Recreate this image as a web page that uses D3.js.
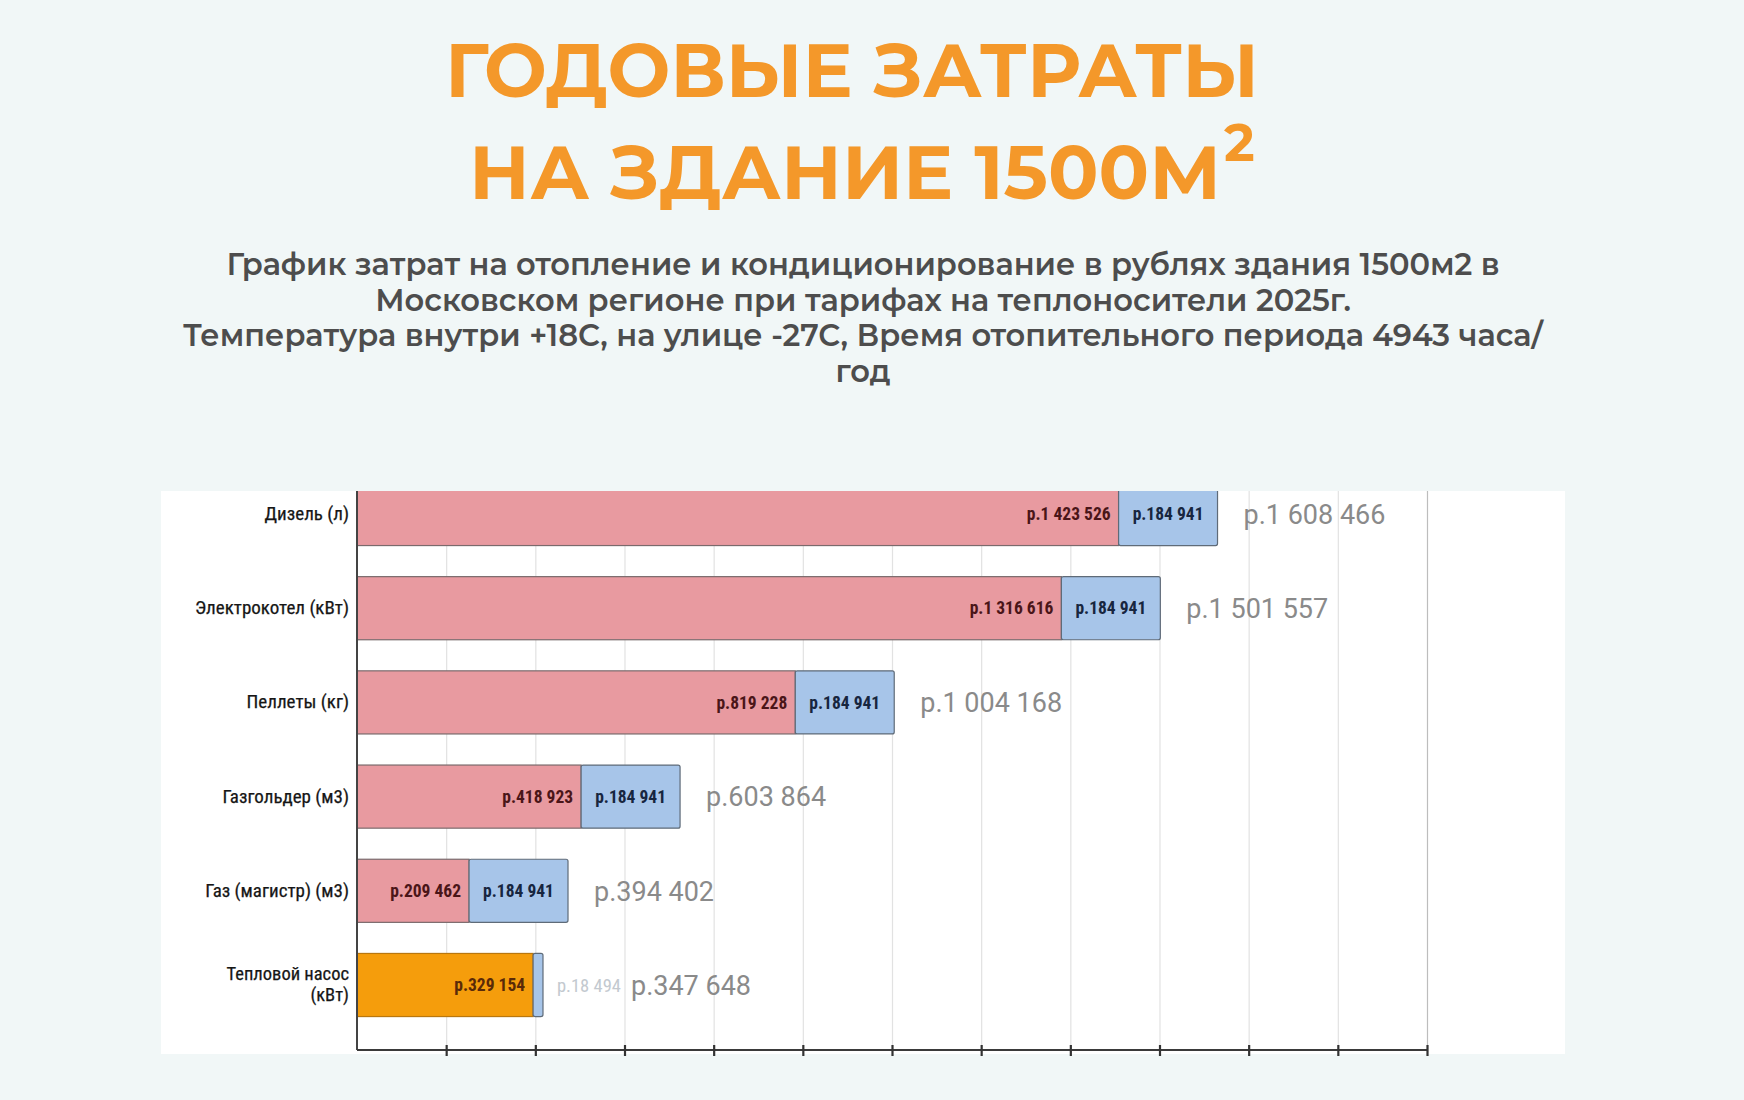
<!DOCTYPE html>
<html lang="ru">
<head>
<meta charset="utf-8">
<script src="https://cdn.jsdelivr.net/npm/d3@7"></script>
<style>
  html, body { margin: 0; padding: 0; background: #f1f7f7; }
  svg { display: block; }
</style>
</head>
<body>
<div id="chart"></div>
<script>
// Годовые затраты на здание 1500 м2: отопление + кондиционирование, руб.

const titleLines = ["ГОДОВЫЕ ЗАТРАТЫ", "НА ЗДАНИЕ 1500М"];
const subtitleLines = [
  "График затрат на отопление и кондиционирование в рублях здания 1500м2 в",
  "Московском регионе при тарифах на теплоносители 2025г.",
  "Температура внутри +18С, на улице -27С, Время отопительного периода 4943 часа/",
  "год"
];

const categories = [
  "Дизель (л)",
  "Электрокотел (кВт)",
  "Пеллеты (кг)",
  "Газгольдер (м3)",
  "Газ (магистр) (м3)",
  "Тепловой насос (кВт)"
];
const heatingCosts = [1423526, 1316616, 819228, 418923, 209462, 329154];
const coolingCosts = [184941, 184941, 184941, 184941, 184941, 18494];
const totalCosts   = [1608466, 1501557, 1004168, 603864, 394402, 347648];

const highlighted = "Тепловой насос (кВт)";

const width = 1744, height = 1100;
const panel = { x: 161, y: 491, w: 1404, h: 563 };
const plot  = { left: 357, right: 1427, top: 449, bottom: 1050 };

const rub = v => "р." + d3.format(",")(v).replace(/,/g, " ");

const svg = d3.select("#chart").append("svg")
  .attr("width", width)
  .attr("height", height);

svg.append("rect")
  .attr("width", width).attr("height", height)
  .attr("fill", "#f1f7f7");

// ── TITLE ─────────────────────────────────────────────
const titleFont = "Montserrat, 'Open Sans', 'DejaVu Sans', sans-serif";

function fitWidth(sel, target) {
  const w = sel.node().getComputedTextLength();
  const size = parseFloat(sel.attr("font-size"));
  sel.attr("font-size", (size * target / w).toFixed(2));
}

const t1 = svg.append("text")
  .attr("x", 852).attr("y", 97)
  .attr("text-anchor", "middle")
  .attr("font-family", titleFont)
  .attr("font-weight", 700)
  .attr("font-size", 82)
  .attr("fill", "#f4982a")
  .text(titleLines[0]);
fitWidth(t1, 814);

const t2 = svg.append("text")
  .attr("x", 469).attr("y", 199)
  .attr("font-family", titleFont)
  .attr("font-weight", 700)
  .attr("font-size", 82)
  .attr("fill", "#f4982a")
  .text(titleLines[1]);
fitWidth(t2, 752);
const t2w = t2.node().getComputedTextLength();

svg.append("text")
  .attr("x", 469 + t2w + 3).attr("y", 161)
  .attr("font-family", titleFont)
  .attr("font-weight", 700)
  .attr("font-size", 52)
  .attr("fill", "#f4982a")
  .text("2");

// ── SUBTITLE ──────────────────────────────────────────
const sub = svg.append("g")
  .attr("font-family", "Montserrat, 'Open Sans', 'DejaVu Sans', sans-serif")
  .attr("font-weight", 600)
  .attr("fill", "#4d4d4d")
  .attr("text-anchor", "middle");

const subTexts = subtitleLines.map((line, i) =>
  sub.append("text")
    .attr("x", 863)
    .attr("y", 275 + i * 35.5)
    .attr("font-size", 27)
    .text(line)
);
// scale all subtitle lines so the longest matches the reference width
const longest = subTexts[2].node().getComputedTextLength();
const subSize = (27 * 1360 / longest).toFixed(2);
subTexts.forEach(s => s.attr("font-size", subSize));

// ── PANEL ─────────────────────────────────────────────
svg.append("rect")
  .attr("x", panel.x).attr("y", panel.y)
  .attr("width", panel.w).attr("height", panel.h)
  .attr("fill", "#ffffff");

svg.append("clipPath").attr("id", "panel-clip")
  .append("rect")
  .attr("x", panel.x).attr("y", panel.y)
  .attr("width", panel.w).attr("height", panel.h);

const chart = svg.append("g").attr("clip-path", "url(#panel-clip)");

const x = d3.scaleLinear()
  .domain([0, 2000000])
  .range([plot.left, plot.right]);

const y = d3.scaleBand()
  .domain(categories)
  .range([plot.top, plot.bottom])
  .paddingInner(0.33)
  .paddingOuter(0.355);

const gridStep = 2000000 / 12;
const gridValues = d3.range(1, 13).map(i => i * gridStep);

// vertical gridlines
chart.append("g")
  .attr("transform", `translate(0, ${plot.bottom})`)
  .call(d3.axisBottom(x)
    .tickValues(gridValues)
    .tickSize(-(plot.bottom - panel.y))
    .tickFormat(""))
  .call(a => a.select(".domain").remove())
  .call(a => a.selectAll(".tick line")
    .attr("stroke", (d, i) => i === gridValues.length - 1 ? "#bdbdbd" : "#e2e2e2")
    .attr("stroke-width", 1.2));

// ── BARS ──────────────────────────────────────────────
const rows = categories.map((c, i) => ({
  category: c,
  heating: heatingCosts[i],
  cooling: coolingCosts[i],
  total: totalCosts[i]
}));

const bars = chart.append("g");

bars.selectAll(".heat")
  .data(rows)
  .join("rect")
  .attr("x", x(0))
  .attr("y", d => y(d.category))
  .attr("width", d => x(d.heating) - x(0))
  .attr("height", y.bandwidth())
  .attr("fill", d => d.category === highlighted ? "#f59d0c" : "#e89aa0")
  .attr("stroke", d => d.category === highlighted ? "#b9770f" : "#7a6a6c")
  .attr("stroke-width", 1.2);

bars.selectAll(".cool")
  .data(rows)
  .join("rect")
  .attr("x", d => x(d.heating))
  .attr("y", d => y(d.category))
  .attr("width", d => x(d.heating + d.cooling) - x(d.heating))
  .attr("height", y.bandwidth())
  .attr("rx", 2)
  .attr("fill", "#a7c5e9")
  .attr("stroke", "#5f6b78")
  .attr("stroke-width", 1.2);

// value labels inside the segments
const innerFont = "'Liberation Sans Narrow', 'Roboto Condensed', 'Roboto', sans-serif";

bars.selectAll(".heat-label")
  .data(rows)
  .join("text")
  .attr("x", d => x(d.heating) - 8)
  .attr("y", d => y(d.category) + y.bandwidth() / 2)
  .attr("dy", "0.36em")
  .attr("text-anchor", "end")
  .attr("font-family", innerFont)
  .attr("font-weight", 700)
  .attr("font-size", 17.5)
  .attr("fill", d => d.category === highlighted ? "#5a2a08" : "#4a1518")
  .text(d => rub(d.heating));

const fitsInside = d => x(d.heating + d.cooling) - x(d.heating) > 60;

bars.selectAll(".cool-label")
  .data(rows)
  .join("text")
  .attr("x", d => fitsInside(d)
    ? x(d.heating + d.cooling / 2)
    : x(d.heating + d.cooling) + 14)
  .attr("y", d => y(d.category) + y.bandwidth() / 2)
  .attr("dy", "0.36em")
  .attr("text-anchor", d => fitsInside(d) ? "middle" : "start")
  .attr("font-family", innerFont)
  .attr("font-weight", d => fitsInside(d) ? 700 : 400)
  .attr("font-size", d => fitsInside(d) ? 17.5 : 18.5)
  .attr("fill", d => fitsInside(d) ? "#17263f" : "#c3c9cf")
  .text(d => rub(d.cooling));

// totals to the right of each bar
bars.selectAll(".total-label")
  .data(rows)
  .join("text")
  .attr("x", d => x(d.total) + (fitsInside(d) ? 26 : 88))
  .attr("y", d => y(d.category) + y.bandwidth() / 2)
  .attr("dy", "0.36em")
  .attr("font-family", "Roboto, 'Liberation Sans', sans-serif")
  .attr("font-weight", 400)
  .attr("font-size", 27)
  .attr("fill", "#8a8a8a")
  .text(d => rub(d.total));

// ── AXES ──────────────────────────────────────────────
const catAxis = svg.append("g")
  .attr("transform", `translate(${plot.left}, 0)`)
  .call(d3.axisLeft(y).tickSize(0).tickPadding(8));

catAxis.select(".domain").remove();
catAxis.append("line")
  .attr("x1", 0).attr("x2", 0)
  .attr("y1", panel.y).attr("y2", plot.bottom)
  .attr("stroke", "#444").attr("stroke-width", 2);

catAxis.selectAll(".tick text")
  .attr("font-family", innerFont)
  .attr("font-weight", 400)
  .attr("font-size", 19)
  .attr("fill", "#161616")
  .attr("stroke", "#161616")
  .attr("stroke-width", 0.25)
  .each(function (d) {
    if (d !== highlighted) return;
    const node = d3.select(this);
    const parts = ["Тепловой насос", "(кВт)"];
    node.text(null).attr("dy", null).attr("font-size", 18.5);
    parts.forEach((p, i) => {
      node.append("tspan")
        .attr("x", -8)
        .attr("dy", i === 0 ? "-0.25em" : "1.12em")
        .text(p);
    });
  });

svg.append("g")
  .attr("transform", `translate(0, ${plot.bottom})`)
  .call(d3.axisBottom(x)
    .tickValues(gridValues)
    .tickSize(6)
    .tickFormat(""))
  .call(a => a.select(".domain")
    .attr("d", `M${plot.left},0H${plot.right}`)
    .attr("stroke", "#3a3a3a")
    .attr("stroke-width", 2.2))
  .call(a => a.selectAll(".tick line")
    .attr("y1", -5)
    .attr("y2", 6)
    .attr("stroke", "#333")
    .attr("stroke-width", 2.2));
</script>
</body>
</html>
